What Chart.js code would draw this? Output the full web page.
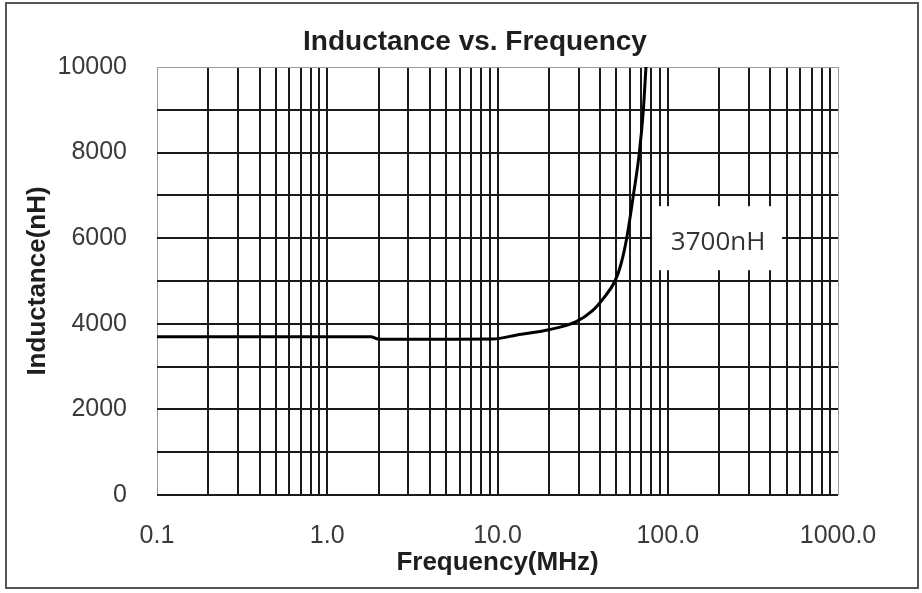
<!DOCTYPE html>
<html>
<head>
<meta charset="utf-8">
<script src="https://cdn.jsdelivr.net/npm/chart.js@4/dist/chart.umd.min.js"></script>
<style>
  html, body { margin: 0; padding: 0; background: #fff; }
</style>
</head>
<body>
<canvas id="chart" width="922" height="593"></canvas>
<script>
// values
const freqMHz = [0.1, 0.5, 1.0, 1.8, 2.0, 5.0, 9.4, 13, 20, 29, 36, 42, 49, 53, 57.4, 62.8, 68.1, 71.9, 74.5];
const inductanceNH = [3700, 3700, 3700, 3700, 3640, 3640, 3645, 3740, 3860, 4050, 4300, 4600, 5000, 5380, 6000, 7000, 8000, 9000, 10000];

const xDecades = [0.1, 1, 10, 100, 1000];
const xTickLabels = ["0.1", "1.0", "10.0", "100.0", "1000.0"];
const yTickLabels = ["0", "2000", "4000", "6000", "8000", "10000"];

const noteText = "3700nH";
const notePos = [195, 6000];

// log grid: 1..9 in every decade
const xGridValues = [];
xDecades.slice(0, -1).forEach((d) => {
  for (let m = 1; m < 10; m++) xGridValues.push(Number((m * d).toPrecision(3)));
});
xGridValues.push(xDecades[xDecades.length - 1]);

const FONT = '"Liberation Sans", Arial, sans-serif';
const GRID = "#1a1a1a";
const EDGE = "#9a9a9a";

const framePlugin = {
  id: "frame",
  beforeDraw(chart) {
    const c = chart.ctx;
    c.save();
    c.fillStyle = "#fff";
    c.fillRect(0, 0, chart.width, chart.height);
    c.strokeStyle = "#555";
    c.lineWidth = 2;
    c.strokeRect(6, 3, 912, 585);
    c.restore();
  },
};

const notePlugin = {
  id: "note",
  afterDatasetsDraw(chart) {
    const { ctx, scales } = chart;
    const cx = scales.x.getPixelForValue(notePos[0]);
    const cy = scales.y.getPixelForValue(notePos[1]);
    ctx.save();
    ctx.fillStyle = "#fff";
    ctx.fillRect(cx - 65, cy - 32, 130, 64);
    ctx.font = '26px "Open Sans", sans-serif';
    ctx.fillStyle = "#333";
    ctx.textAlign = "center";
    ctx.textBaseline = "middle";
    ctx.fillText(noteText, cx + 1, cy + 4);
    ctx.restore();
  },
};

new Chart(document.getElementById("chart"), {
  type: "line",
  data: {
    datasets: [
      {
        data: freqMHz.map((f, i) => ({ x: f, y: inductanceNH[i] })),
        borderColor: "#000",
        borderWidth: 3,
        pointRadius: 0,
        fill: false,
        cubicInterpolationMode: "monotone",
      },
    ],
  },
  options: {
    responsive: false,
    animation: false,
    layout: { padding: { left: 28, right: 0, top: 0, bottom: 0 } },
    plugins: {
      legend: { display: false },
      tooltip: { enabled: false },
      title: {
        display: true,
        text: "Inductance vs. Frequency",
        color: "#1e1e1e",
        font: { family: FONT, size: 28, weight: "bold" },
        padding: { top: 25, bottom: 8.4 },
      },
    },
    scales: {
      x: {
        type: "logarithmic",
        min: 0.1,
        max: 1000,
        afterBuildTicks: (scale) => {
          scale.ticks = xGridValues.map((v) => ({ value: v }));
        },
        afterFit: (scale) => {
          scale.height = 98;
        },
        ticks: {
          autoSkip: false,
          maxRotation: 0,
          minRotation: 0,
          padding: 26,
          color: "#3a3a3a",
          font: { family: FONT, size: 25 },
          callback: (v) => {
            const i = xDecades.findIndex((d) => Math.abs(d - v) < 1e-9);
            return i >= 0 ? xTickLabels[i] : "";
          },
        },
        grid: {
          drawTicks: false,
          color: (ctx) => (ctx.tick && (ctx.tick.value === 0.1 || ctx.tick.value === 1000) ? EDGE : GRID),
          lineWidth: (ctx) => (ctx.tick && (ctx.tick.value === 0.1 || ctx.tick.value === 1000) ? 1 : 2),
        },
        border: { display: false },
        title: {
          display: true,
          text: "Frequency(MHz)",
          color: "#1e1e1e",
          font: { family: FONT, size: 26, weight: "bold" },
          padding: { top: 0, bottom: 15 },
        },
      },
      y: {
        min: 0,
        max: 10000,
        afterFit: (scale) => {
          scale.width = 129;
        },
        ticks: {
          stepSize: 1000,
          padding: 30,
          color: "#3a3a3a",
          font: { family: FONT, size: 25 },
          callback: (v) => {
            const s = String(v);
            return yTickLabels.includes(s) ? s : "";
          },
        },
        grid: {
          drawTicks: false,
          color: (ctx) => (ctx.tick && ctx.tick.value === 10000 ? EDGE : GRID),
          lineWidth: (ctx) => (ctx.tick && ctx.tick.value === 10000 ? 1 : 2),
        },
        border: { display: false },
        title: {
          display: true,
          text: "Inductance(nH)",
          color: "#1e1e1e",
          font: { family: FONT, size: 26, weight: "bold" },
          padding: { top: -6, bottom: 0 },
        },
      },
      y2: {
        position: "right",
        display: true,
        afterFit: (scale) => {
          scale.width = 84;
        },
        ticks: { display: false },
        grid: { display: false },
        border: { display: false },
      },
    },
  },
  plugins: [framePlugin, notePlugin],
});
</script>
</body>
</html>
